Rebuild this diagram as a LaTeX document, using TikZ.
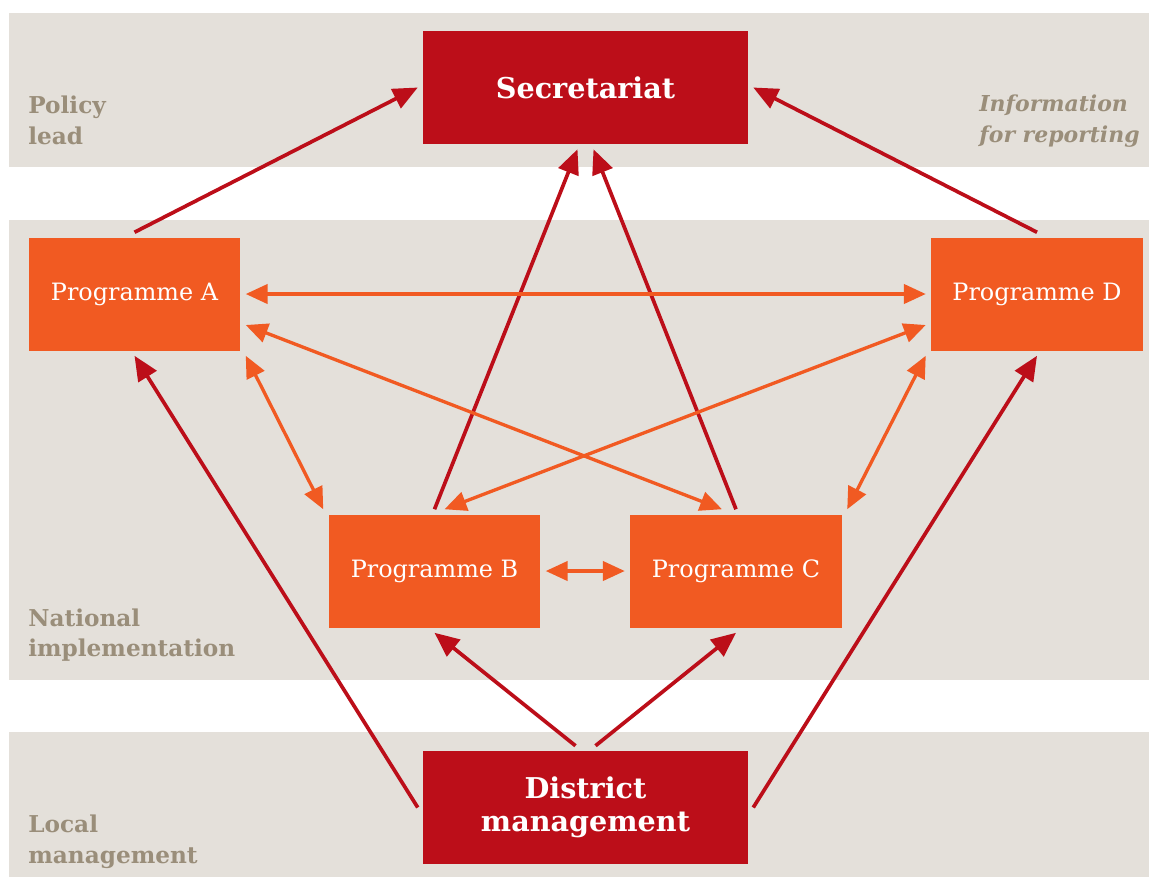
\documentclass[tikz,border=0pt]{standalone}
\usepackage{fontspec}
\setmainfont{DejaVu Serif}
\usepackage{xcolor}
\usepackage{tikz}
\usetikzlibrary{arrows.meta,calc}

\definecolor{secred}{HTML}{BC0E19}
\definecolor{progorange}{HTML}{F15A22}
\definecolor{bandgrey}{HTML}{E4E0DA}
\definecolor{labelgrey}{HTML}{9A8E7A}

\tikzset{
	lead/.style={fill=secred,text=white,minimum width=6.5cm,minimum height=2.26cm,align=center,inner sep=0pt,outer sep=3pt,font=\bfseries\fontsize{16.3}{19}\selectfont},
	prog/.style={fill=progorange,text=white,minimum width=4.24cm,minimum height=2.26cm,inner sep=0pt,outer sep=3pt,font=\fontsize{13.6}{16}\selectfont},
	side/.style={text=labelgrey,align=left,inner sep=0pt,font=\bfseries\fontsize{13.2}{17.5}\selectfont},
	redarrow/.style={draw=secred,line width=2.1pt,-{Triangle[length=14pt,width=12pt]}},
	orangearrow/.style={draw=progorange,line width=1.9pt,{Triangle[length=12.5pt,width=11pt]}-{Triangle[length=12.5pt,width=11pt]}}
}

\begin{document}
\begin{tikzpicture}[x=0.02cm,y=-0.02cm]
			\useasboundingbox (0,0) rectangle (1149,877);
			% Bands
			\foreach \ya/\yb in {13/167,220/680,732/877}
			\fill [bandgrey] (9,\ya) rectangle (1149,\yb);
			% Band labels
			\node [side,anchor=west] (policy) at (28,120) {Policy\\lead};
			\node [side,anchor=east,font=\bfseries\itshape\fontsize{12.5}{17.5}\selectfont,align=left] (info) at (1140,121) {Information\\for reporting};
			\node [side,anchor=west] (national) at (28,635) {National\\implementation};
			\node [side,anchor=west] (local) at (28,842) {Local\\management};
			% Boxes
			\node [lead] (sec) at (585.5,87.5) {Secretariat};
			\node [lead] (dist) at (585.5,807.5) {District\\management};
			\node [prog] (A) at (134.5,294) {Programme A};
			\node [prog] (D) at (1037,294) {Programme D};
			\node [prog] (B) at (434.5,571) {Programme B};
			\node [prog] (C) at (736,571) {Programme C};
			% Reporting lines
			\draw [redarrow] (A.north) -- (sec.west);
			\draw [redarrow] (D.north) -- (sec.east);
			\draw [redarrow] (B.north) -- ($(sec.south)+(-8,0)$);
			\draw [redarrow] (C.north) -- ($(sec.south)+(8,0)$);
			\draw [redarrow] (dist.west) -- (A.south);
			\draw [redarrow] (dist.east) -- (D.south);
			\draw [redarrow] ($(dist.north)+(-10,0)$) -- (B.south);
			\draw [redarrow] ($(dist.north)+(10,0)$) -- (C.south);
			% Links between programmes
			\draw [orangearrow] (A.east) -- (D.west);
			\draw [orangearrow] ($(A.east)+(0,31)$) -- ($(C.north)+(-14,0)$);
			\draw [orangearrow] ($(D.west)+(0,31)$) -- ($(B.north)+(10,0)$);
			\draw [orangearrow] (A.south east) -- (B.north west);
			\draw [orangearrow] (D.south west) -- (C.north east);
			\draw [orangearrow] (B.east) -- (C.west);
		\end{tikzpicture}
\end{document}
